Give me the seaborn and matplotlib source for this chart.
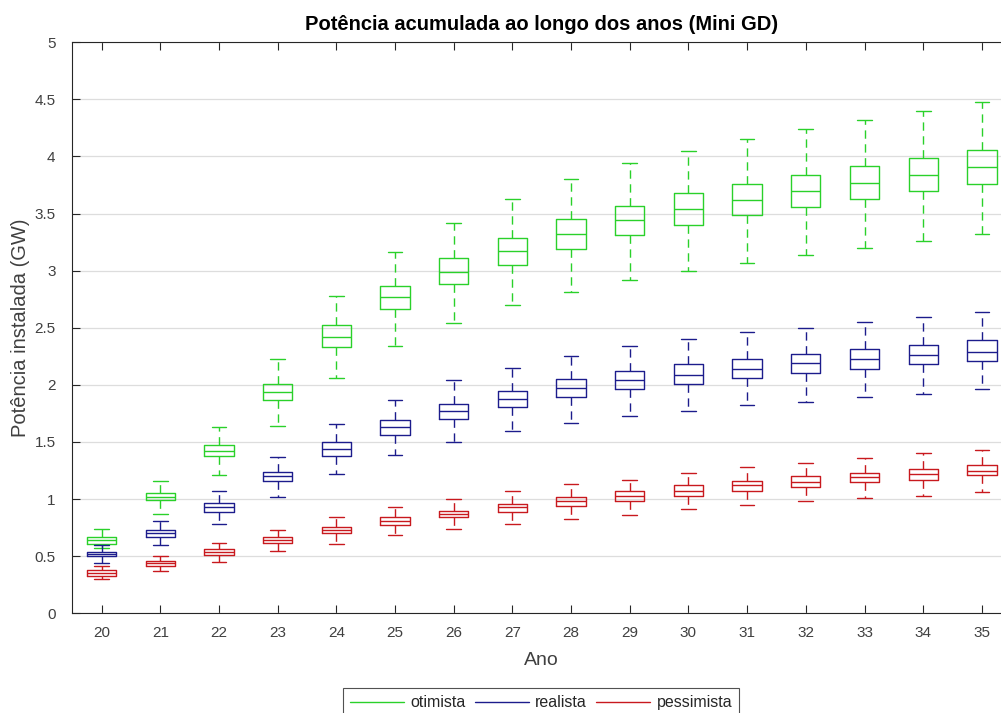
import numpy as np
import pandas as pd
import matplotlib
matplotlib.use("Agg")
import matplotlib.pyplot as plt
from matplotlib.lines import Line2D
import seaborn as sns

years = [str(y) for y in range(20, 36)]
series = ["otimista", "realista", "pessimista"]

# otimista (green)
ot_lo = [0.57, 0.87, 1.21, 1.64, 2.06, 2.34, 2.54, 2.70, 2.81, 2.92, 3.00, 3.07, 3.14, 3.20, 3.26, 3.32]
ot_q1 = [0.61, 0.99, 1.38, 1.87, 2.33, 2.66, 2.88, 3.05, 3.19, 3.31, 3.40, 3.49, 3.56, 3.63, 3.70, 3.76]
ot_md = [0.64, 1.02, 1.42, 1.94, 2.42, 2.77, 2.99, 3.17, 3.32, 3.44, 3.54, 3.62, 3.70, 3.77, 3.84, 3.91]
ot_q3 = [0.67, 1.05, 1.47, 2.01, 2.52, 2.87, 3.11, 3.29, 3.45, 3.57, 3.68, 3.76, 3.84, 3.92, 3.99, 4.06]
ot_hi = [0.74, 1.16, 1.63, 2.23, 2.78, 3.16, 3.42, 3.63, 3.80, 3.94, 4.05, 4.15, 4.24, 4.32, 4.40, 4.48]

# realista (blue)
re_lo = [0.44, 0.60, 0.78, 1.02, 1.22, 1.39, 1.50, 1.60, 1.67, 1.73, 1.77, 1.82, 1.85, 1.89, 1.92, 1.96]
re_q1 = [0.50, 0.67, 0.89, 1.16, 1.38, 1.56, 1.70, 1.81, 1.89, 1.96, 2.01, 2.06, 2.10, 2.14, 2.18, 2.21]
re_md = [0.52, 0.70, 0.93, 1.20, 1.44, 1.63, 1.77, 1.88, 1.97, 2.04, 2.09, 2.14, 2.19, 2.23, 2.26, 2.29]
re_q3 = [0.535, 0.73, 0.97, 1.24, 1.50, 1.69, 1.83, 1.95, 2.05, 2.12, 2.18, 2.23, 2.27, 2.31, 2.35, 2.39]
re_hi = [0.60, 0.81, 1.07, 1.37, 1.66, 1.87, 2.04, 2.15, 2.25, 2.34, 2.40, 2.46, 2.50, 2.55, 2.59, 2.64]

# pessimista (red)
pe_lo = [0.30, 0.37, 0.45, 0.55, 0.61, 0.69, 0.74, 0.78, 0.83, 0.86, 0.91, 0.95, 0.98, 1.01, 1.03, 1.06]
pe_q1 = [0.33, 0.41, 0.51, 0.62, 0.70, 0.77, 0.84, 0.89, 0.94, 0.98, 1.03, 1.07, 1.11, 1.15, 1.17, 1.21]
pe_md = [0.355, 0.44, 0.54, 0.64, 0.73, 0.81, 0.87, 0.93, 0.98, 1.03, 1.07, 1.12, 1.15, 1.19, 1.22, 1.25]
pe_q3 = [0.375, 0.46, 0.56, 0.67, 0.76, 0.84, 0.90, 0.96, 1.02, 1.07, 1.12, 1.16, 1.20, 1.23, 1.26, 1.30]
pe_hi = [0.41, 0.50, 0.62, 0.73, 0.84, 0.93, 1.00, 1.07, 1.13, 1.17, 1.23, 1.28, 1.32, 1.36, 1.40, 1.43]

y_ticks = [0, 0.5, 1, 1.5, 2, 2.5, 3, 3.5, 4, 4.5, 5]
colors = ["#2ad12a", "#1c1c8c", "#c8191e"]

stats = {
    "otimista": (ot_lo, ot_q1, ot_md, ot_q3, ot_hi),
    "realista": (re_lo, re_q1, re_md, re_q3, re_hi),
    "pessimista": (pe_lo, pe_q1, pe_md, pe_q3, pe_hi),
}
rows = []
for s in series:
    cols = stats[s]
    for i, yr in enumerate(years):
        for arr in cols:
            rows.append({"Ano": yr, "cenario": s, "valor": arr[i]})
df = pd.DataFrame(rows)

sns.set_style("white")
plt.rcParams["font.family"] = ["Liberation Sans", "DejaVu Sans"]

fig = plt.figure(figsize=(10.01, 7.13), dpi=100)
ax = fig.add_axes([0.0722, 0.1398, 0.938, 0.801])

sns.boxplot(
    data=df, x="Ano", y="valor", hue="cenario", order=years, hue_order=series,
    palette=colors, dodge=False, width=0.5, fill=False, whis=(0, 100),
    linewidth=1.0, legend=False, ax=ax,
    whiskerprops=dict(linestyle=(0, (6, 4))),
)

ax.set_xlim(-0.5, 15.5)
ax.set_ylim(0, 5)
ax.set_yticks(y_ticks)
ax.set_yticklabels([f"{v:g}" for v in y_ticks])
ax.set_axisbelow(True)
ax.yaxis.grid(True, color="#dddddd", linewidth=0.9)
ax.xaxis.grid(False)
for sp in ax.spines.values():
    sp.set_color("#262626")
    sp.set_linewidth(0.8)
    sp.set_visible(True)
ax.tick_params(axis="both", which="both", direction="in", length=6, width=0.8,
               color="#262626", labelcolor="#404040", labelsize=11,
               top=True, right=True, bottom=True, left=True)
ax.tick_params(axis="x", pad=9)
ax.tick_params(axis="y", pad=12)

ax.set_xlabel("Ano", fontsize=14, color="#404040", labelpad=9)
ax.set_ylabel("Potência instalada (GW)", fontsize=14.5, color="#404040", labelpad=3)
ax.set_title("Potência acumulada ao longo dos anos (Mini GD)", fontsize=14.5,
             fontweight="bold", color="black", pad=9)

handles = [Line2D([0], [0], color=c, lw=1.0) for c in colors]
leg = fig.legend(handles, series, loc="upper center", ncol=3,
                 bbox_to_anchor=(541 / 1001, 1 - 688 / 713), frameon=True,
                 fancybox=False, fontsize=11.5, handlelength=3.4,
                 columnspacing=0.55, handletextpad=0.4, borderpad=0.45,
                 borderaxespad=0.0, edgecolor="#262626")
leg.get_frame().set_linewidth(0.8)
for t in leg.get_texts():
    t.set_color("#262626")

fig.savefig("out.png", dpi=100)
